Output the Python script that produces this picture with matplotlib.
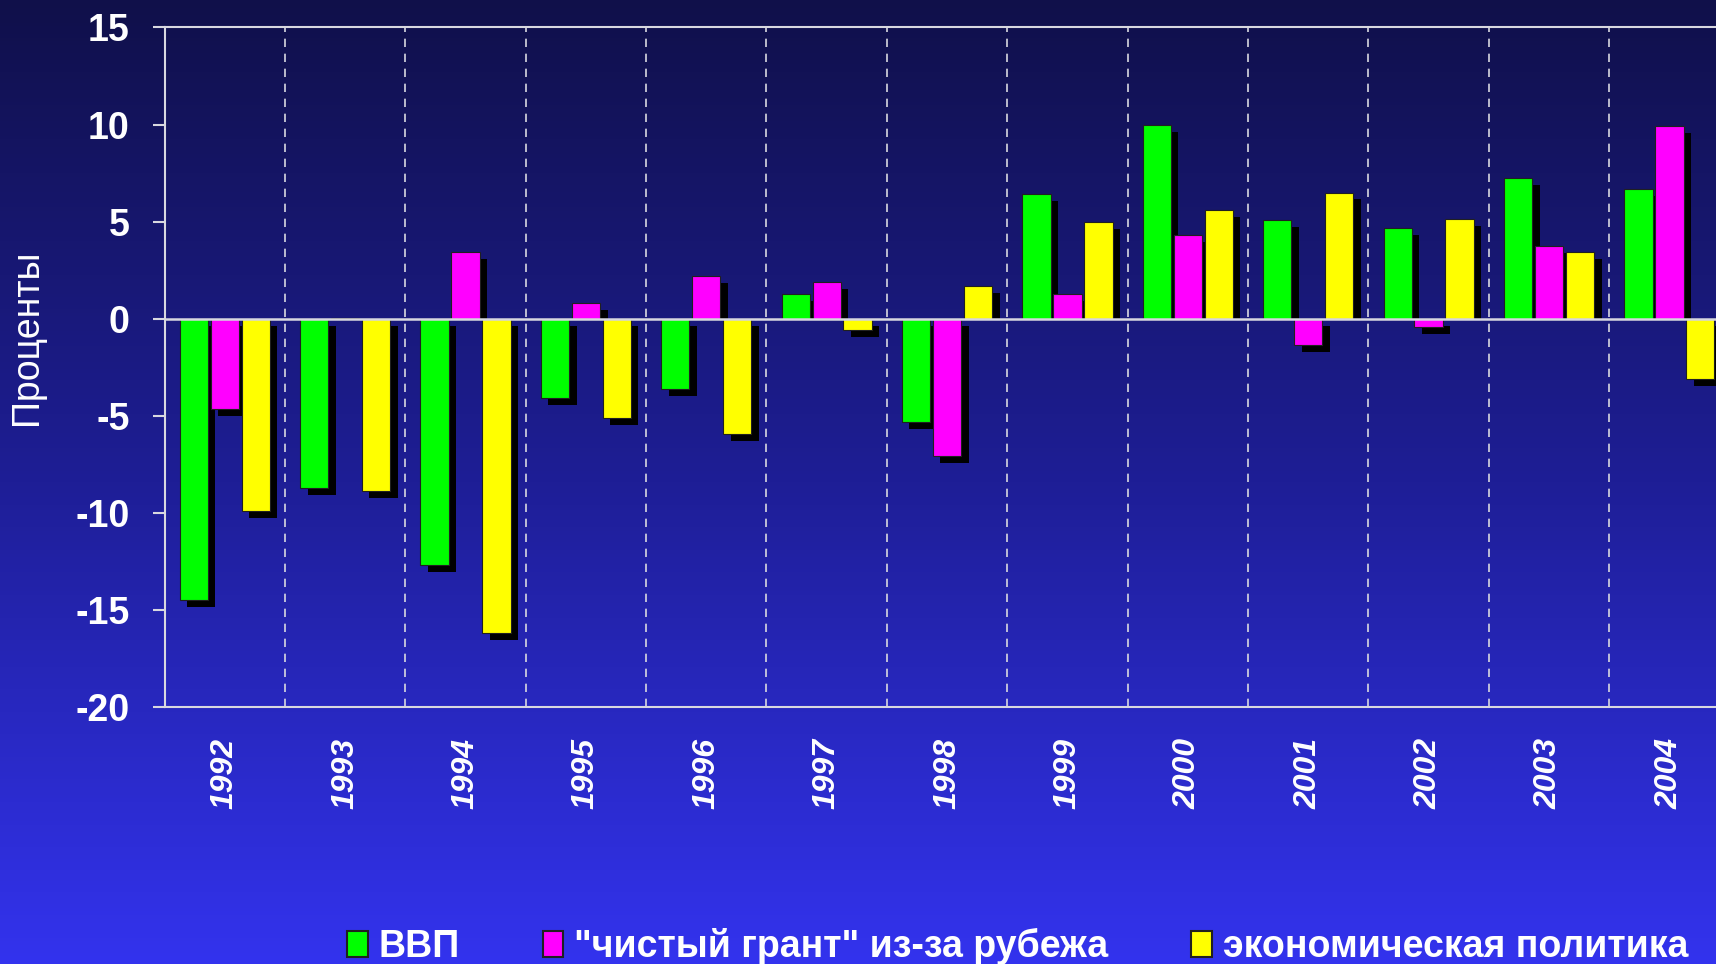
import numpy as np
import matplotlib.pyplot as plt
from matplotlib.patches import Patch
from matplotlib.colors import LinearSegmentedColormap

plt.rcParams['axes.unicode_minus'] = False

years = ['1992', '1993', '1994', '1995', '1996', '1997', '1998',
         '1999', '2000', '2001', '2002', '2003', '2004']
gdp = [-14.5, -8.7, -12.7, -4.1, -3.6, 1.25, -5.3, 6.4, 10.0, 5.1, 4.65, 7.25, 6.7]
grant = [-4.65, 0.05, 3.45, 0.8, 2.2, 1.9, -7.05, 1.25, 4.3, -1.35, -0.45, 3.75, 9.9]
policy = [-9.9, -8.9, -16.2, -5.1, -5.95, -0.6, 1.7, 5.0, 5.6, 6.5, 5.15, 3.45, -3.1]
labels = ['ВВП', '"чистый грант" из-за рубежа', 'экономическая политика']
colors = ['#00ff00', '#ff00ff', '#ffff00']

narrow = ['Liberation Sans Narrow', 'Liberation Sans', 'DejaVu Sans']
line_col = '#d8d8e0'

fig = plt.figure(figsize=(17.16, 9.64), dpi=100)

# фон с градиентом
bg = fig.add_axes([0, 0, 1, 1])
grad = np.linspace(0, 1, 256).reshape(-1, 1)
cmap = LinearSegmentedColormap.from_list('bg', ['#3333ee', '#1e1e96', '#10104a'])
bg.imshow(grad, aspect='auto', cmap=cmap, extent=[0, 1, 0, 1], origin='lower')
bg.axis('off')

ax = fig.add_axes([0.0959, 0.2666, 0.912, 0.7049])
ax.set_facecolor('none')

x = np.arange(len(years))
w = 0.235
dx, dy = 0.062, 0.36  # сдвиг тени (в единицах данных)
for i, (vals, c) in enumerate(zip([gdp, grant, policy], colors)):
    v = np.array(vals)
    pos = x + (i - 1) * 0.257
    # тень: справа и снизу, положительные столбики не уходят ниже нуля
    sh_top = np.where(v > 0, np.maximum(v - dy, 0), -dy)
    sh_bot = np.where(v > 0, 0, v - dy)
    ax.bar(pos + dx, sh_top - sh_bot, w, bottom=sh_bot, color='black', linewidth=0, zorder=2 + i)
    ax.bar(pos, v, w, color=c, edgecolor='#202020', linewidth=0.8, zorder=2.5 + i)

ax.vlines(x[:-1] + 0.5, -20, 15, colors=line_col, linestyles=(0, (5, 4)), linewidth=1.2, zorder=1)
ax.axhline(0, color=line_col, linewidth=1.8, zorder=6)

ax.set_xlim(-0.5, 12.5)
ax.set_ylim(-20, 15)
ax.set_yticks(np.arange(-20, 16, 5))
ax.set_xticks(x)
ax.set_xticklabels(years, rotation=90, fontsize=23, fontweight='bold', fontstyle='italic',
                   color='white', family=['Liberation Sans', 'DejaVu Sans'])
ax.tick_params(axis='x', length=0, pad=22)
ax.tick_params(axis='y', length=9, width=1.5, color=line_col, pad=16, labelcolor='white')
for t in ax.get_yticklabels():
    t.set_fontsize(27)
    t.set_fontweight('bold')
    t.set_family(narrow)

for s in ['left', 'bottom', 'top']:
    ax.spines[s].set_color(line_col)
    ax.spines[s].set_linewidth(1.5)
ax.spines['right'].set_visible(False)

fig.text(0.016, 0.650, 'Проценты', rotation=90, color='white', fontsize=27,
         ha='center', va='center', family=['Liberation Sans', 'DejaVu Sans'])

handles = [Patch(facecolor=c, edgecolor='#202020', linewidth=1.5) for c in colors]
fig.legend(handles, labels, loc='center', bbox_to_anchor=(0.593, 0.018), ncol=3,
           frameon=False, handlelength=0.55, handleheight=0.7, handletextpad=0.3,
           columnspacing=2.2, labelcolor='white',
           prop={'family': narrow, 'weight': 'bold', 'size': 27})

fig.savefig('out.png', dpi=100)
